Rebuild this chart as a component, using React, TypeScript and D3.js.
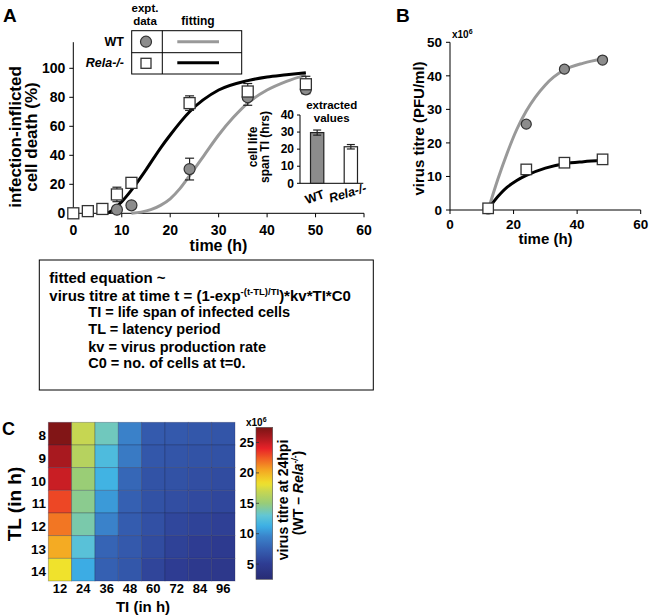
import React from 'react';
import * as d3 from 'd3';

const FONT = '"Liberation Sans", Arial, Helvetica, sans-serif';

// ---------- Panel A : infection-inflicted cell death ----------
const relaTimesA = [0, 3, 6, 9, 12, 24, 36, 48];
const relaDeathA = [0, 1.5, 3, 13, 21, 76, 84, 89];
const relaErrA = [0, 0, 0, 5, 1, 5, 5.5, 5.5];
const wtTimesA = [9, 12, 24, 36, 48];
const wtDeathA = [2.5, 5.5, 30.5, 80, 85.5];
const wtErrA = [0, 0, 7.5, 5.5, 3];
const relaFitTimesA = [7, 8, 10, 12, 15, 18, 20, 24, 30, 36, 40, 44, 48];
const relaFitA = [0, 2, 8, 16, 30, 45, 54, 70, 85, 91.5, 94, 95.5, 97];
const wtFitTimesA = [12, 14, 16, 18, 20, 22, 24, 27, 30, 33, 36, 40, 44, 48];
const wtFitA = [0, 0.8, 2.5, 5.5, 10, 17, 26, 40, 54, 66, 76, 85, 91, 95.5];
const xTicksA = [0, 10, 20, 30, 40, 50, 60];
const yTicksA = [0, 20, 40, 60, 80, 100];

// inset : extracted values
const insetGroups = ['WT', 'Rela-/-'];
const insetTI = [29.7, 21.4];
const insetErr = [1.5, 1.3];
const insetTicks = [0, 10, 20, 30, 40];

// ---------- Panel B : virus titre ----------
const timesB = [12, 24, 36, 48];
const wtTitreB = [0.3, 25.6, 42.0, 44.7];
const relaTitreB = [0.5, 12.1, 14.1, 15.1];
const wtFitTimesB = [12, 15, 18, 21, 24, 30, 36, 42, 48];
const wtFitB = [0, 9, 17, 24, 29.5, 37.3, 41.8, 43.8, 45];
const relaFitTimesB = [12, 14, 16, 18, 21, 24, 30, 36, 42, 48];
const relaFitB = [0, 2.8, 5, 6.8, 8.8, 10.3, 12.5, 13.8, 14.4, 14.8];
const xTicksB = [0, 20, 40, 60];
const yTicksB = [0, 10, 20, 30, 40, 50];

// ---------- Panel C : heatmap ----------
const tiValues = [12, 24, 36, 48, 60, 72, 84, 96];
const tlValues = [8, 9, 10, 11, 12, 13, 14];
const titreDiff = [
  [27.25, 16.9, 13.5, 9.45, 7.1, 7.0, 6.9, 6.75],
  [25.9, 16.25, 12.1, 9.0, 6.9, 6.75, 6.6, 6.5],
  [24.9, 15.1, 11.5, 7.9, 6.6, 6.5, 6.25, 6.1],
  [23.0, 14.5, 10.4, 7.5, 6.5, 6.25, 6.0, 5.75],
  [21.75, 13.9, 9.5, 7.25, 6.4, 5.75, 5.5, 5.25],
  [20.25, 12.6, 7.75, 7.0, 6.1, 5.4, 5.0, 4.75],
  [18.25, 11.1, 7.5, 6.9, 5.6, 5.0, 4.6, 4.4],
];
const cbTicks = [5, 10, 15, 20, 25];
const cbDomain = [2.5, 27.5];
const jetStops = [0, 0.1, 0.2, 0.28, 0.35, 0.42, 0.5, 0.58, 0.63, 0.72, 0.8, 0.86, 0.93, 1.0];
const jetColors = ['#282c74', '#2e3c92', '#3560b2', '#3a82ca', '#3cb0e6', '#62c6d4', '#98cc78', '#c8d650', '#f0e22c', '#f4a422', '#f05a24', '#e82228', '#ac1a20', '#7a1414'];

function Square({ x, y, s }: { x: number; y: number; s: number }) {
  return <rect x={x - s / 2} y={y - s / 2} width={s} height={s} fill="#fff" stroke="#333" strokeWidth={1.3} />;
}

export default function App() {
  // Panel A scales
  const xA = d3.scaleLinear().domain([0, 60]).range([73.3, 364]);
  const yA = d3.scaleLinear().domain([0, 100]).range([213.3, 68.3]);
  const lineA = d3.line<[number, number]>().x(d => xA(d[0])).y(d => yA(d[1])).curve(d3.curveMonotoneX);
  const relaFitPathA = lineA(relaFitTimesA.map((t, i) => [t, relaFitA[i]]));
  const wtFitPathA = lineA(wtFitTimesA.map((t, i) => [t, wtFitA[i]]));

  // inset
  const xI = d3.scalePoint<string>().domain(insetGroups).range([302, 366]).padding(0.45);
  const yI = d3.scaleLinear().domain([0, 40]).range([183.3, 115]);
  const barW = 13.3;

  // Panel B scales
  const xB = d3.scaleLinear().domain([0, 60]).range([450, 640.7]);
  const yB = d3.scaleLinear().domain([0, 50]).range([210, 42.3]);
  const lineB = d3.line<[number, number]>().x(d => xB(d[0])).y(d => yB(d[1])).curve(d3.curveMonotoneX);
  const wtFitPathB = lineB(wtFitTimesB.map((t, i) => [t, wtFitB[i]]));
  const relaFitPathB = lineB(relaFitTimesB.map((t, i) => [t, relaFitB[i]]));

  // Panel C scales
  const xC = d3.scaleBand<number>().domain(tiValues).range([48.3, 235]);
  const yC = d3.scaleBand<number>().domain(tlValues).range([422.3, 581]);
  const norm = d3.scaleLinear().domain(cbDomain).range([0, 1]).clamp(true);
  const jet = d3.scaleLinear<string>().domain(jetStops).range(jetColors).interpolate(d3.interpolateRgb);
  const color = (v: number) => jet(norm(v));
  const yCB = d3.scaleLinear().domain(cbDomain).range([579.3, 427.3]);
  const gradStops = d3.range(0, 1.0001, 0.02);

  const bold = { fontFamily: FONT, fontWeight: 'bold' as const };

  return (
    <svg width={650} height={616} style={{ position: 'absolute', left: 0, top: 0, background: '#fff' }} {...bold}>
      <rect x={0} y={0} width={650} height={616} fill="#fff" />
      <defs>
        <linearGradient id="cbGrad" x1="0" y1="1" x2="0" y2="0">
          {gradStops.map(s => (
            <stop key={s} offset={s} stopColor={jet(s)} />
          ))}
        </linearGradient>
      </defs>

      {/* ================= Panel A ================= */}
      <text x={3} y={22} fontSize={19}>A</text>

      {/* legend table */}
      <text x={145} y={12} fontSize={11.5} textAnchor="middle">expt.</text>
      <text x={145} y={25} fontSize={11.5} textAnchor="middle">data</text>
      <text x={198} y={25} fontSize={12} textAnchor="middle">fitting</text>
      <rect x={131.7} y={30.7} width={110} height={43.3} fill="#fff" stroke="#000" strokeWidth={1} />
      <line x1={131.7} x2={241.7} y1={52.7} y2={52.7} stroke="#000" strokeWidth={1} />
      <line x1={162.3} x2={162.3} y1={30.7} y2={74} stroke="#000" strokeWidth={1} />
      <text x={124} y={46} fontSize={12.5} textAnchor="end">WT</text>
      <text x={124} y={67} fontSize={12.5} textAnchor="end" fontStyle="italic">Rela-/-</text>
      <circle cx={146} cy={41.7} r={5.5} fill="#8c8c8c" stroke="#333" strokeWidth={1.2} />
      <Square x={146} y={63.3} s={10} />
      <line x1={177.3} x2={219} y1={41.7} y2={41.7} stroke="#999" strokeWidth={3} />
      <line x1={177.3} x2={219} y1={62.7} y2={62.7} stroke="#000" strokeWidth={3} />

      {/* axes */}
      <line x1={xA(0)} x2={xA(0)} y1={yA(118)} y2={yA(0)} stroke="#000" strokeWidth={1} />
      <line x1={xA(0)} x2={xA(60)} y1={yA(0)} y2={yA(0)} stroke="#000" strokeWidth={1} />
      {yTicksA.map(v => (
        <g key={v}>
          <line x1={xA(0) - 4} x2={xA(0)} y1={yA(v)} y2={yA(v)} stroke="#000" />
          <text x={xA(0) - 8} y={yA(v)} dy="0.35em" fontSize={14} textAnchor="end">{v}</text>
        </g>
      ))}
      {xTicksA.map(v => (
        <g key={v}>
          <line x1={xA(v)} x2={xA(v)} y1={yA(0)} y2={yA(0) + 4} stroke="#000" />
          <text x={xA(v)} y={235} fontSize={14} textAnchor="middle">{v}</text>
        </g>
      ))}
      <text x={218.5} y={250.5} fontSize={16} textAnchor="middle">time (h)</text>
      <text transform="translate(21,137) rotate(-90)" fontSize={17} textAnchor="middle">infection-inflicted</text>
      <text transform="translate(37,137) rotate(-90)" fontSize={17} textAnchor="middle">cell death (%)</text>

      {/* fitted curves */}
      <path d={wtFitPathA || ''} fill="none" stroke="#999" strokeWidth={3} />
      <path d={relaFitPathA || ''} fill="none" stroke="#000" strokeWidth={3} />

      {/* error bars */}
      {wtTimesA.map((t, i) => wtErrA[i] > 0 && (
        <g key={'we' + t} stroke="#222" strokeWidth={1.2}>
          <line x1={xA(t)} x2={xA(t)} y1={yA(wtDeathA[i] - wtErrA[i])} y2={yA(wtDeathA[i] + wtErrA[i])} />
          <line x1={xA(t) - 4.5} x2={xA(t) + 4.5} y1={yA(wtDeathA[i] - wtErrA[i])} y2={yA(wtDeathA[i] - wtErrA[i])} />
          <line x1={xA(t) - 4.5} x2={xA(t) + 4.5} y1={yA(wtDeathA[i] + wtErrA[i])} y2={yA(wtDeathA[i] + wtErrA[i])} />
        </g>
      ))}
      {relaTimesA.map((t, i) => relaErrA[i] > 0 && (
        <g key={'re' + t} stroke="#222" strokeWidth={1.2}>
          <line x1={xA(t)} x2={xA(t)} y1={yA(relaDeathA[i] - relaErrA[i])} y2={yA(relaDeathA[i] + relaErrA[i])} />
          <line x1={xA(t) - 4.5} x2={xA(t) + 4.5} y1={yA(relaDeathA[i] - relaErrA[i])} y2={yA(relaDeathA[i] - relaErrA[i])} />
          <line x1={xA(t) - 4.5} x2={xA(t) + 4.5} y1={yA(relaDeathA[i] + relaErrA[i])} y2={yA(relaDeathA[i] + relaErrA[i])} />
        </g>
      ))}
      {wtTimesA.map((t, i) => (
        <circle key={'wc' + t} cx={xA(t)} cy={yA(wtDeathA[i])} r={5.5} fill="#8c8c8c" stroke="#333" strokeWidth={1.2} />
      ))}
      {relaTimesA.map((t, i) => (
        <Square key={'rs' + t} x={xA(t)} y={yA(relaDeathA[i])} s={11} />
      ))}

      {/* inset bar chart */}
      <text x={331.7} y={109} fontSize={11.5} textAnchor="middle">extracted</text>
      <text x={331.7} y={121.5} fontSize={11.5} textAnchor="middle">values</text>
      <line x1={300} x2={300} y1={yI(40)} y2={yI(0)} stroke="#000" />
      <line x1={300} x2={363.3} y1={yI(0)} y2={yI(0)} stroke="#000" />
      {insetTicks.map(v => (
        <g key={v}>
          <line x1={297} x2={300} y1={yI(v)} y2={yI(v)} stroke="#000" />
          <text x={294} y={yI(v)} dy="0.35em" fontSize={12} textAnchor="end">{v}</text>
        </g>
      ))}
      <text transform="translate(257,147) rotate(-90)" fontSize={12} textAnchor="middle">cell life</text>
      <text transform="translate(269,147) rotate(-90)" fontSize={12} textAnchor="middle">span TI (hrs)</text>
      {insetGroups.map((g, i) => {
        const cx = xI(g) as number;
        return (
          <g key={g}>
            <rect x={cx - barW / 2} y={yI(insetTI[i])} width={barW} height={yI(0) - yI(insetTI[i])}
              fill={i === 0 ? '#8c8c8c' : '#fff'} stroke="#222" strokeWidth={1.2} />
            <g stroke="#222" strokeWidth={1.2}>
              <line x1={cx} x2={cx} y1={yI(insetTI[i] - insetErr[i])} y2={yI(insetTI[i] + insetErr[i])} />
              <line x1={cx - 4} x2={cx + 4} y1={yI(insetTI[i] + insetErr[i])} y2={yI(insetTI[i] + insetErr[i])} />
              <line x1={cx - 4} x2={cx + 4} y1={yI(insetTI[i] - insetErr[i])} y2={yI(insetTI[i] - insetErr[i])} />
            </g>
          </g>
        );
      })}
      <text transform={`translate(${(xI('WT') as number) - 1},201) rotate(-20)`} fontSize={12.5} textAnchor="middle">WT</text>
      <text transform={`translate(${(xI('Rela-/-') as number) - 2},197) rotate(-17)`} fontSize={12.5} textAnchor="middle" fontStyle="italic">Rela-/-</text>

      {/* ================= Panel B ================= */}
      <text x={396} y={22} fontSize={19}>B</text>
      <text x={452} y={38} fontSize={10}>x10<tspan dy={-4} fontSize={7}>6</tspan></text>
      <line x1={xB(0)} x2={xB(0)} y1={yB(50)} y2={yB(0)} stroke="#000" />
      <line x1={xB(0)} x2={xB(60)} y1={yB(0)} y2={yB(0)} stroke="#000" />
      {yTicksB.map(v => (
        <g key={v}>
          <line x1={xB(0) - 4} x2={xB(0)} y1={yB(v)} y2={yB(v)} stroke="#000" />
          <text x={442} y={yB(v)} dy="0.35em" fontSize={13.5} textAnchor="end">{v}</text>
        </g>
      ))}
      {xTicksB.map(v => (
        <g key={v}>
          <line x1={xB(v)} x2={xB(v)} y1={yB(0)} y2={yB(0) + 4} stroke="#000" />
          <text x={xB(v)} y={228.5} fontSize={13.5} textAnchor="middle">{v}</text>
        </g>
      ))}
      <text x={545.5} y={243.5} fontSize={15} textAnchor="middle">time (h)</text>
      <text transform="translate(424,128.5) rotate(-90)" fontSize={15} textAnchor="middle">virus titre (PFU/ml)</text>
      <path d={wtFitPathB || ''} fill="none" stroke="#999" strokeWidth={3} />
      <path d={relaFitPathB || ''} fill="none" stroke="#000" strokeWidth={3} />
      {timesB.map((t, i) => (
        <circle key={'bw' + t} cx={xB(t)} cy={yB(wtTitreB[i])} r={5} fill="#8c8c8c" stroke="#333" strokeWidth={1.2} />
      ))}
      {timesB.map((t, i) => (
        <Square key={'br' + t} x={xB(t)} y={yB(relaTitreB[i])} s={10.5} />
      ))}

      {/* ================= Equation box ================= */}
      <rect x={39.3} y={260} width={334} height={130} fill="#fff" stroke="#000" strokeWidth={1} />
      <text x={49.3} y={283} fontSize={15}>fitted equation ~</text>
      <text x={49.3} y={300.7} fontSize={15}>
        virus titre at time t = (1-exp<tspan dy={-6} fontSize={9.5}>-(t-TL)/TI</tspan>
        <tspan dy={6}>)*kv*TI*C0</tspan>
      </text>
      <text x={88.3} y={316.7} fontSize={14.5}>TI = life span of infected cells</text>
      <text x={88.3} y={334} fontSize={14.5}>TL = latency period</text>
      <text x={88.3} y={351.7} fontSize={14.5}>kv = virus production rate</text>
      <text x={88.3} y={368.3} fontSize={14.5}>C0 = no. of cells at t=0.</text>

      {/* ================= Panel C ================= */}
      <text x={2} y={435} fontSize={18}>C</text>
      {tlValues.map((tl, r) =>
        tiValues.map((ti, c) => (
          <rect key={tl + '-' + ti} x={xC(ti)} y={yC(tl)} width={xC.bandwidth()} height={yC.bandwidth()}
            fill={color(titreDiff[r][c])} stroke="#1c2248" strokeOpacity={0.35} strokeWidth={0.8} />
        ))
      )}
      {tlValues.map(tl => (
        <text key={tl} x={46} y={(yC(tl) as number) + yC.bandwidth() / 2 + 2} dy="0.35em" fontSize={13.5} textAnchor="end">{tl}</text>
      ))}
      {tiValues.map(ti => (
        <text key={ti} x={(xC(ti) as number) + xC.bandwidth() / 2} y={593} fontSize={13} textAnchor="middle">{ti}</text>
      ))}
      <text x={143} y={612} fontSize={15} textAnchor="middle">TI (in h)</text>
      <text transform="translate(21,504) rotate(-90)" fontSize={19} textAnchor="middle">TL (in h)</text>

      {/* colorbar */}
      <rect x={256} y={yCB(cbDomain[1])} width={16.7} height={yCB(cbDomain[0]) - yCB(cbDomain[1])} fill="url(#cbGrad)" />
      <rect x={256} y={yCB(cbDomain[1])} width={16.7} height={yCB(cbDomain[0]) - yCB(cbDomain[1])} fill="none" stroke="#555" strokeWidth={0.6} />
      {cbTicks.map(v => (
        <g key={v}>
          <line x1={256} x2={259} y1={yCB(v)} y2={yCB(v)} stroke="#333" strokeWidth={0.8} />
          <text x={254} y={yCB(v)} dy="0.35em" fontSize={13} textAnchor="end">{v}</text>
        </g>
      ))}
      <text x={246} y={426} fontSize={10}>x10<tspan dy={-4} fontSize={7}>6</tspan></text>
      <text transform="translate(288,500) rotate(-90)" fontSize={14} textAnchor="middle">virus titre at 24hpi</text>
      <text transform="translate(303,493) rotate(-90)" fontSize={14} textAnchor="middle">
        (WT – <tspan fontStyle="italic">Rela</tspan><tspan dy={-5} fontSize={8.5} fontStyle="italic">-/-</tspan><tspan dy={5}>)</tspan>
      </text>
    </svg>
  );
}
